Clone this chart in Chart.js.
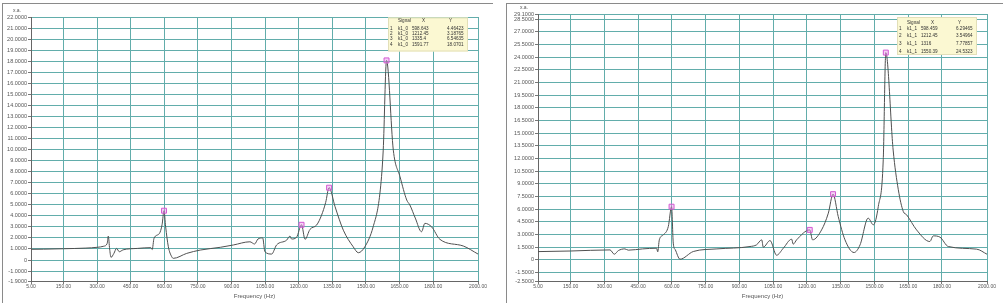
<!DOCTYPE html>
<html>
<head>
<meta charset="utf-8">
<script src="https://cdn.jsdelivr.net/npm/chart.js@4.4.0/dist/chart.umd.min.js"></script>
<style>
  body { margin: 0; width: 1003px; height: 303px; background: #fff; position: relative; overflow: hidden; }
  .panel { position: absolute; top: 3px; height: 300px; box-sizing: border-box; border-top: 1px solid #8a8a8a; border-left: 1px solid #8a8a8a; }
  #p1 { left: 2px; width: 491px; }
  #p2 { left: 506px; width: 497px; }
  canvas { position: absolute; left: 0; top: 0; }
</style>
</head>
<body>
<div class="panel" id="p1"><canvas id="c1" width="490" height="299"></canvas></div>
<div class="panel" id="p2"><canvas id="c2" width="496" height="299"></canvas></div>
<script>
// x ticks shared by both panels
const xTicks = [5, 150, 300, 450, 600, 750, 900, 1050, 1200, 1350, 1500, 1650, 1800, 2000];

// left panel (k1_0)
const leftYTicks = [-1.9, -1, 0, 1, 2, 3, 4, 5, 6, 7, 8, 9, 10, 11, 12, 13, 14, 15, 16, 17, 18, 19, 20, 21, 22];
const leftFreq = [5, 60, 150, 250, 300, 330, 345, 350, 356, 362, 375, 387, 399, 416, 480, 540, 546, 554, 578, 590, 598.6, 606, 618, 633, 640, 700, 760, 850, 908, 982,
  1003, 1018, 1039, 1049, 1079, 1101, 1146, 1161, 1168, 1190, 1212.45, 1228, 1250, 1280, 1302, 1320, 1335.4, 1362, 1399, 1443, 1466, 1495, 1532, 1562, 1577, 1591.77,
  1622, 1652, 1682, 1696, 1720, 1748, 1763, 1793, 1830, 1934, 2000];
const leftAmp = [0.97, 0.98, 1.02, 1.08, 1.15, 1.25, 1.5, 2.17, 1.0, 0.24, 0.6, 1.05, 0.75, 0.92, 1.05, 1.12, 0.95, 1.96, 2.4, 3.2, 4.46, 3.0, 1.2, 0.3, 0.15, 0.6, 0.9, 1.15, 1.36, 1.65,
  1.45, 1.9, 2.0, 0.75, 0.54, 1.36, 1.8, 2.17, 1.9, 2.05, 3.19, 1.87, 2.77, 3.17, 4.07, 5.2, 6.55, 4.83, 2.7, 1.2, 0.66, 1.2, 3.0, 6.0, 9.95, 18.07,
  9.95, 7.54, 5.43, 4.98, 3.8, 2.56, 3.32, 3.0, 1.87, 1.27, 0.54];
const leftMarkX = [598.643, 1212.45, 1335.4, 1591.77];
const leftMarkY = [4.46423, 3.18765, 6.54635, 18.0701];

// right panel (k1_1)
const rightYTicks = [-2.5, -1.5, 0, 1.5, 3, 4.5, 6, 7.5, 9, 10.5, 12, 13.5, 15, 16.5, 18, 19.5, 21, 22.5, 24, 25.5, 27, 28.5, 29.1];
const rightFreq = [5, 150, 325, 344, 362, 391, 406, 470, 532, 537, 544, 562, 584, 598.46, 606, 615, 636, 695, 800, 947, 976,
  999, 1006, 1036, 1065, 1095, 1132, 1139, 1154, 1212.45, 1225, 1265, 1295, 1316, 1339, 1369, 1409, 1436, 1472, 1495, 1517, 1539, 1550.39,
  1583, 1606, 1628, 1643, 1687, 1746, 1761, 1791, 1828, 1954, 2000];
const rightAmp = [0.98, 1.05, 1.18, 0.67, 1.1, 1.3, 1.15, 1.3, 1.38, 0.95, 2.37, 2.96, 3.95, 6.29, 1.98, 1.2, 0.08, 0.99, 1.3, 1.58, 1.78,
  2.37, 1.5, 2.29, 0.55, 1.38, 2.45, 1.86, 2.37, 3.55, 2.37, 3.55, 5.53, 7.78, 5.13, 2.37, 0.87, 1.78, 4.94, 4.15, 6.32, 11.85, 24.53,
  13.0, 8.3, 5.73, 5.33, 3.55, 2.17, 2.84, 2.69, 1.58, 1.27, 0.67];
const rightMarkX = [598.459, 1212.45, 1316, 1550.39];
const rightMarkY = [6.29465, 3.54964, 7.77857, 24.5323];

const gridColor = '#62adab';
const textColor = '#555';
const fontFam = '"Liberation Sans", Arial, sans-serif';

function fmt(v) {
  return String(Number(v.toPrecision(6)));
}

// unit label over the y axis and the yellow peak table
const overlay = {
  id: 'overlay',
  afterDraw(chart, args, o) {
    const ctx = chart.ctx, a = chart.chartArea;
    ctx.save();
    ctx.fillStyle = textColor;
    ctx.font = '5px ' + fontFam;
    ctx.textAlign = 'center';
    ctx.textBaseline = 'middle';
    ctx.fillText('x.a.', a.left - 14, a.top - 6);

    const bw = 80, bx = a.right - 10 - bw, by = o.boxTop;
    ctx.fillStyle = '#fbf8d2';
    ctx.fillRect(bx, by, bw, o.boxH);
    ctx.strokeStyle = '#e2dfb8';
    ctx.lineWidth = 1;
    ctx.strokeRect(bx + 0.5, by + 0.5, bw - 1, o.boxH - 1);
    ctx.beginPath();
    ctx.rect(bx, by, bw, o.boxH);
    ctx.clip();
    ctx.fillStyle = '#333';
    ctx.font = '4.6px ' + fontFam;
    ctx.textAlign = 'left';
    ctx.fillText('Signal', bx + 10, by + o.headY);
    ctx.fillText('X', bx + 34, by + o.headY);
    ctx.fillText('Y', bx + 61, by + o.headY);
    o.markX.forEach((x, i) => {
      const y = by + o.rowY0 + i * o.rowStep;
      ctx.fillText(String(i + 1), bx + 2, y);
      ctx.fillText(o.signal, bx + 10, y);
      ctx.fillText(fmt(x), bx + 24, y);
      ctx.fillText(fmt(o.markY[i]), bx + 59, y);
    });
    ctx.restore();
  }
};

function makeChart(id, freq, amp, markX, markY, yTicks, yWidth, pad, table) {
  const yMin = yTicks[0], yMax = yTicks[yTicks.length - 1];
  return new Chart(document.getElementById(id), {
    type: 'line',
    data: {
      datasets: [{
        data: freq.map((f, i) => ({ x: f, y: amp[i] })),
        borderColor: '#505050',
        borderWidth: 1,
        pointRadius: 0,
        cubicInterpolationMode: 'monotone',
        order: 2
      }, {
        data: markX.map((f, i) => ({ x: f, y: markY[i] })),
        showLine: false,
        pointStyle: 'rect',
        pointRadius: 3.5,
        backgroundColor: 'rgba(236,150,236,0.45)',
        borderColor: '#d35ad3',
        borderWidth: 1,
        order: 1
      }]
    },
    options: {
      responsive: false,
      animation: false,
      layout: { padding: pad },
      plugins: { legend: { display: false }, tooltip: { enabled: false }, overlay: table },
      scales: {
        x: {
          type: 'linear',
          min: 5,
          max: 2000,
          afterBuildTicks: s => { s.ticks = xTicks.map(v => ({ value: v })); },
          afterFit: s => { s.height = 19; },
          ticks: { autoSkip: false, maxRotation: 0, padding: 0, color: textColor, font: { size: 5, family: fontFam }, callback: v => v.toFixed(2) },
          grid: { color: gridColor, lineWidth: 1, tickLength: 3, tickColor: '#777' },
          border: { display: true, color: '#666' },
          title: { display: true, text: 'Frequency (Hz)', color: textColor, font: { size: 6, family: fontFam }, padding: 0 }
        },
        y: {
          min: yMin,
          max: yMax,
          afterBuildTicks: s => { s.ticks = yTicks.map(v => ({ value: v })); },
          afterFit: s => { s.width = yWidth; },
          ticks: { autoSkip: false, padding: 1, color: textColor, font: { size: 5.5, family: fontFam }, callback: v => v === 0 ? '0' : v.toFixed(4) },
          grid: { color: gridColor, lineWidth: 1, tickLength: 3, tickColor: '#777' },
          border: { display: true, color: '#666' }
        }
      }
    },
    plugins: [overlay]
  });
}

makeChart('c1', leftFreq, leftAmp, leftMarkX, leftMarkY, leftYTicks, 28,
  { top: 13, right: 15, bottom: 3, left: 0 },
  { signal: 'k1_0', markX: leftMarkX, markY: leftMarkY, boxTop: 13.5, boxH: 34, headY: 3.5, rowY0: 11.5, rowStep: 5.1 });

makeChart('c2', rightFreq, rightAmp, rightMarkX, rightMarkY, rightYTicks, 31,
  { top: 10, right: 16, bottom: 3, left: 0 },
  { signal: 'k1_1', markX: rightMarkX, markY: rightMarkY, boxTop: 13, boxH: 38, headY: 5.7, rowY0: 11.3, rowStep: 7.8 });
</script>
</body>
</html>
